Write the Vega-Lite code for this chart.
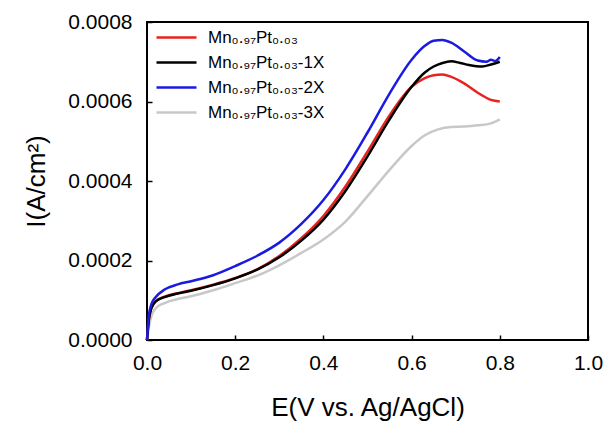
{
  "$schema": "https://vega.github.io/schema/vega-lite/v6.json",
  "width": 441,
  "height": 318,
  "autosize": {"type": "none"},
  "padding": {"left": 147, "top": 22, "right": 18, "bottom": 83},
  "background": "white",
  "config": {
    "view": {"stroke": "black", "strokeWidth": 2},
    "font": "Liberation Sans",
    "axis": {
      "domain": false,
      "grid": false,
      "ticks": true,
      "tickColor": "black",
      "tickWidth": 1.5,
      "tickSize": 5,
      "offset": -5,
      "labelFlush": false,
      "labelFont": "Liberation Sans",
      "labelFontSize": 21,
      "labelColor": "black",
      "titleFont": "Liberation Sans",
      "titleFontSize": 26,
      "titleFontWeight": "normal",
      "titleColor": "black"
    }
  },
  "data": {
    "values": [
      {"s": "Mn₀.₉₇Pt₀.₀₃-3X", "x": 0, "y": 0},
      {"s": "Mn₀.₉₇Pt₀.₀₃-3X", "x": 0.004, "y": 0.00003},
      {"s": "Mn₀.₉₇Pt₀.₀₃-3X", "x": 0.01, "y": 0.00006},
      {"s": "Mn₀.₉₇Pt₀.₀₃-3X", "x": 0.02, "y": 0.00008},
      {"s": "Mn₀.₉₇Pt₀.₀₃-3X", "x": 0.04, "y": 0.000093},
      {"s": "Mn₀.₉₇Pt₀.₀₃-3X", "x": 0.07, "y": 0.000103},
      {"s": "Mn₀.₉₇Pt₀.₀₃-3X", "x": 0.1, "y": 0.00011},
      {"s": "Mn₀.₉₇Pt₀.₀₃-3X", "x": 0.15, "y": 0.000125},
      {"s": "Mn₀.₉₇Pt₀.₀₃-3X", "x": 0.2, "y": 0.000143},
      {"s": "Mn₀.₉₇Pt₀.₀₃-3X", "x": 0.25, "y": 0.000162},
      {"s": "Mn₀.₉₇Pt₀.₀₃-3X", "x": 0.3, "y": 0.000188},
      {"s": "Mn₀.₉₇Pt₀.₀₃-3X", "x": 0.35, "y": 0.000219},
      {"s": "Mn₀.₉₇Pt₀.₀₃-3X", "x": 0.4, "y": 0.000253},
      {"s": "Mn₀.₉₇Pt₀.₀₃-3X", "x": 0.45, "y": 0.000298},
      {"s": "Mn₀.₉₇Pt₀.₀₃-3X", "x": 0.5, "y": 0.000362},
      {"s": "Mn₀.₉₇Pt₀.₀₃-3X", "x": 0.55, "y": 0.000428},
      {"s": "Mn₀.₉₇Pt₀.₀₃-3X", "x": 0.6, "y": 0.000488},
      {"s": "Mn₀.₉₇Pt₀.₀₃-3X", "x": 0.63, "y": 0.000515},
      {"s": "Mn₀.₉₇Pt₀.₀₃-3X", "x": 0.66, "y": 0.00053},
      {"s": "Mn₀.₉₇Pt₀.₀₃-3X", "x": 0.69, "y": 0.000536},
      {"s": "Mn₀.₉₇Pt₀.₀₃-3X", "x": 0.72, "y": 0.000537},
      {"s": "Mn₀.₉₇Pt₀.₀₃-3X", "x": 0.75, "y": 0.00054},
      {"s": "Mn₀.₉₇Pt₀.₀₃-3X", "x": 0.78, "y": 0.000545},
      {"s": "Mn₀.₉₇Pt₀.₀₃-3X", "x": 0.8, "y": 0.000555},

      {"s": "Mn₀.₉₇Pt₀.₀₃", "x": 0, "y": 0},
      {"s": "Mn₀.₉₇Pt₀.₀₃", "x": 0.004, "y": 0.00005},
      {"s": "Mn₀.₉₇Pt₀.₀₃", "x": 0.01, "y": 0.00008},
      {"s": "Mn₀.₉₇Pt₀.₀₃", "x": 0.02, "y": 0.000098},
      {"s": "Mn₀.₉₇Pt₀.₀₃", "x": 0.04, "y": 0.000109},
      {"s": "Mn₀.₉₇Pt₀.₀₃", "x": 0.07, "y": 0.000118},
      {"s": "Mn₀.₉₇Pt₀.₀₃", "x": 0.1, "y": 0.000125},
      {"s": "Mn₀.₉₇Pt₀.₀₃", "x": 0.15, "y": 0.000139},
      {"s": "Mn₀.₉₇Pt₀.₀₃", "x": 0.2, "y": 0.000156},
      {"s": "Mn₀.₉₇Pt₀.₀₃", "x": 0.25, "y": 0.000178},
      {"s": "Mn₀.₉₇Pt₀.₀₃", "x": 0.3, "y": 0.000211},
      {"s": "Mn₀.₉₇Pt₀.₀₃", "x": 0.35, "y": 0.000256},
      {"s": "Mn₀.₉₇Pt₀.₀₃", "x": 0.4, "y": 0.000312},
      {"s": "Mn₀.₉₇Pt₀.₀₃", "x": 0.45, "y": 0.000386},
      {"s": "Mn₀.₉₇Pt₀.₀₃", "x": 0.5, "y": 0.000474},
      {"s": "Mn₀.₉₇Pt₀.₀₃", "x": 0.55, "y": 0.000565},
      {"s": "Mn₀.₉₇Pt₀.₀₃", "x": 0.6, "y": 0.000637},
      {"s": "Mn₀.₉₇Pt₀.₀₃", "x": 0.63, "y": 0.000659},
      {"s": "Mn₀.₉₇Pt₀.₀₃", "x": 0.65, "y": 0.000666},
      {"s": "Mn₀.₉₇Pt₀.₀₃", "x": 0.67, "y": 0.000668},
      {"s": "Mn₀.₉₇Pt₀.₀₃", "x": 0.69, "y": 0.000662},
      {"s": "Mn₀.₉₇Pt₀.₀₃", "x": 0.72, "y": 0.000645},
      {"s": "Mn₀.₉₇Pt₀.₀₃", "x": 0.75, "y": 0.000622},
      {"s": "Mn₀.₉₇Pt₀.₀₃", "x": 0.78, "y": 0.000604},
      {"s": "Mn₀.₉₇Pt₀.₀₃", "x": 0.8, "y": 0.0006},

      {"s": "Mn₀.₉₇Pt₀.₀₃-1X", "x": 0, "y": 0},
      {"s": "Mn₀.₉₇Pt₀.₀₃-1X", "x": 0.004, "y": 0.00005},
      {"s": "Mn₀.₉₇Pt₀.₀₃-1X", "x": 0.01, "y": 0.00008},
      {"s": "Mn₀.₉₇Pt₀.₀₃-1X", "x": 0.02, "y": 0.000097},
      {"s": "Mn₀.₉₇Pt₀.₀₃-1X", "x": 0.04, "y": 0.000108},
      {"s": "Mn₀.₉₇Pt₀.₀₃-1X", "x": 0.07, "y": 0.000117},
      {"s": "Mn₀.₉₇Pt₀.₀₃-1X", "x": 0.1, "y": 0.000124},
      {"s": "Mn₀.₉₇Pt₀.₀₃-1X", "x": 0.15, "y": 0.000138},
      {"s": "Mn₀.₉₇Pt₀.₀₃-1X", "x": 0.2, "y": 0.000155},
      {"s": "Mn₀.₉₇Pt₀.₀₃-1X", "x": 0.25, "y": 0.000177},
      {"s": "Mn₀.₉₇Pt₀.₀₃-1X", "x": 0.3, "y": 0.000208},
      {"s": "Mn₀.₉₇Pt₀.₀₃-1X", "x": 0.35, "y": 0.00025},
      {"s": "Mn₀.₉₇Pt₀.₀₃-1X", "x": 0.4, "y": 0.000303},
      {"s": "Mn₀.₉₇Pt₀.₀₃-1X", "x": 0.45, "y": 0.000375},
      {"s": "Mn₀.₉₇Pt₀.₀₃-1X", "x": 0.5, "y": 0.000462},
      {"s": "Mn₀.₉₇Pt₀.₀₃-1X", "x": 0.55, "y": 0.000555},
      {"s": "Mn₀.₉₇Pt₀.₀₃-1X", "x": 0.6, "y": 0.000637},
      {"s": "Mn₀.₉₇Pt₀.₀₃-1X", "x": 0.63, "y": 0.000673},
      {"s": "Mn₀.₉₇Pt₀.₀₃-1X", "x": 0.65, "y": 0.000688},
      {"s": "Mn₀.₉₇Pt₀.₀₃-1X", "x": 0.67, "y": 0.000697},
      {"s": "Mn₀.₉₇Pt₀.₀₃-1X", "x": 0.69, "y": 0.000701},
      {"s": "Mn₀.₉₇Pt₀.₀₃-1X", "x": 0.71, "y": 0.000697},
      {"s": "Mn₀.₉₇Pt₀.₀₃-1X", "x": 0.73, "y": 0.000692},
      {"s": "Mn₀.₉₇Pt₀.₀₃-1X", "x": 0.76, "y": 0.000688},
      {"s": "Mn₀.₉₇Pt₀.₀₃-1X", "x": 0.78, "y": 0.000693},
      {"s": "Mn₀.₉₇Pt₀.₀₃-1X", "x": 0.8, "y": 0.0007},

      {"s": "Mn₀.₉₇Pt₀.₀₃-2X", "x": 0, "y": 0},
      {"s": "Mn₀.₉₇Pt₀.₀₃-2X", "x": 0.004, "y": 0.00006},
      {"s": "Mn₀.₉₇Pt₀.₀₃-2X", "x": 0.01, "y": 0.00009},
      {"s": "Mn₀.₉₇Pt₀.₀₃-2X", "x": 0.02, "y": 0.000108},
      {"s": "Mn₀.₉₇Pt₀.₀₃-2X", "x": 0.04, "y": 0.000127},
      {"s": "Mn₀.₉₇Pt₀.₀₃-2X", "x": 0.07, "y": 0.00014},
      {"s": "Mn₀.₉₇Pt₀.₀₃-2X", "x": 0.1, "y": 0.000148},
      {"s": "Mn₀.₉₇Pt₀.₀₃-2X", "x": 0.15, "y": 0.000163},
      {"s": "Mn₀.₉₇Pt₀.₀₃-2X", "x": 0.2, "y": 0.000186},
      {"s": "Mn₀.₉₇Pt₀.₀₃-2X", "x": 0.25, "y": 0.000212},
      {"s": "Mn₀.₉₇Pt₀.₀₃-2X", "x": 0.3, "y": 0.000245},
      {"s": "Mn₀.₉₇Pt₀.₀₃-2X", "x": 0.35, "y": 0.000292},
      {"s": "Mn₀.₉₇Pt₀.₀₃-2X", "x": 0.4, "y": 0.000352},
      {"s": "Mn₀.₉₇Pt₀.₀₃-2X", "x": 0.45, "y": 0.00043},
      {"s": "Mn₀.₉₇Pt₀.₀₃-2X", "x": 0.5, "y": 0.000522},
      {"s": "Mn₀.₉₇Pt₀.₀₃-2X", "x": 0.55, "y": 0.00062},
      {"s": "Mn₀.₉₇Pt₀.₀₃-2X", "x": 0.6, "y": 0.000705},
      {"s": "Mn₀.₉₇Pt₀.₀₃-2X", "x": 0.63, "y": 0.00074},
      {"s": "Mn₀.₉₇Pt₀.₀₃-2X", "x": 0.65, "y": 0.000753},
      {"s": "Mn₀.₉₇Pt₀.₀₃-2X", "x": 0.67, "y": 0.000755},
      {"s": "Mn₀.₉₇Pt₀.₀₃-2X", "x": 0.69, "y": 0.000748},
      {"s": "Mn₀.₉₇Pt₀.₀₃-2X", "x": 0.72, "y": 0.000725},
      {"s": "Mn₀.₉₇Pt₀.₀₃-2X", "x": 0.75, "y": 0.000703},
      {"s": "Mn₀.₉₇Pt₀.₀₃-2X", "x": 0.77, "y": 0.0007},
      {"s": "Mn₀.₉₇Pt₀.₀₃-2X", "x": 0.78, "y": 0.000705},
      {"s": "Mn₀.₉₇Pt₀.₀₃-2X", "x": 0.79, "y": 0.000702},
      {"s": "Mn₀.₉₇Pt₀.₀₃-2X", "x": 0.8, "y": 0.000712}
    ]
  },
  "mark": {"type": "line", "strokeWidth": 2.5, "interpolate": "monotone"},
  "encoding": {
    "x": {
      "field": "x",
      "type": "quantitative",
      "scale": {"domain": [0, 1], "nice": false},
      "axis": {"values": [0, 0.2, 0.4, 0.6, 0.8, 1.0], "format": ".1f", "title": "E(V vs. Ag/AgCl)", "labelPadding": 12, "titlePadding": 21}
    },
    "y": {
      "field": "y",
      "type": "quantitative",
      "scale": {"domain": [0, 0.0008], "nice": false},
      "axis": {"values": [0, 0.0002, 0.0004, 0.0006, 0.0008], "format": ".4f", "title": "I(A/cm²)", "labelPadding": 15, "titlePadding": 18}
    },
    "color": {
      "field": "s",
      "type": "nominal",
      "scale": {
        "domain": ["Mn₀.₉₇Pt₀.₀₃", "Mn₀.₉₇Pt₀.₀₃-1X", "Mn₀.₉₇Pt₀.₀₃-2X", "Mn₀.₉₇Pt₀.₀₃-3X"],
        "range": ["#e8221c", "#000000", "#1a1ae0", "#c8c8c8"]
      },
      "legend": {
        "title": null,
        "orient": "none",
        "legendX": 8,
        "legendY": 3,
        "symbolType": "stroke",
        "symbolSize": 1600,
        "symbolStrokeWidth": 2.5,
        "clipHeight": 25,
        "rowPadding": 0,
        "labelOffset": 10,
        "labelFont": "Liberation Sans",
        "labelFontSize": 17,
        "labelColor": "black",
        "padding": 0
      }
    }
  }
}
